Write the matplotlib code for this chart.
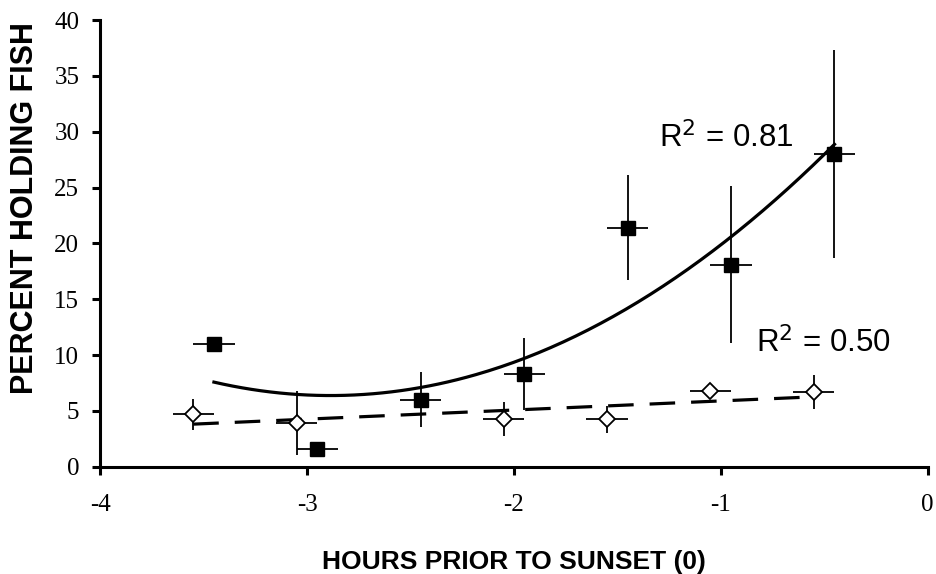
import numpy as np
import matplotlib
matplotlib.use('Agg')
import matplotlib.pyplot as plt

# Filled squares
sq_x = [-3.45, -2.95, -2.45, -1.95, -1.45, -0.95, -0.45]
sq_y = [11.0, 1.6, 6.0, 8.3, 21.4, 18.1, 28.0]
sq_xerr = [0.1, 0.1, 0.1, 0.1, 0.1, 0.1, 0.1]
sq_yerr = [0.0, 0.0, 2.45, 3.2, 4.7, 7.0, 9.3]

# Open diamonds
di_x = [-3.55, -3.05, -2.05, -1.55, -1.05, -0.55]
di_y = [4.7, 3.9, 4.25, 4.25, 6.8, 6.7]
di_xerr = [0.1, 0.1, 0.1, 0.1, 0.1, 0.1]
di_yerr = [1.4, 2.9, 1.5, 1.2, 0.6, 1.5]

r2_sq = "R$^2$ = 0.81"
r2_di = "R$^2$ = 0.50"

fig = plt.figure(figsize=(9.36, 5.74), dpi=100, facecolor='w')
ax = fig.add_axes([0.107, 0.187, 0.884, 0.778])

ax.errorbar(sq_x, sq_y, xerr=sq_xerr, yerr=sq_yerr, fmt='s', color='k',
            markersize=10, elinewidth=1.3, capsize=0, zorder=3)
ax.errorbar(di_x, di_y, xerr=di_xerr, yerr=di_yerr, fmt='D', color='k',
            markerfacecolor='w', markeredgewidth=1.3, markersize=8,
            elinewidth=1.3, capsize=0, zorder=3)

# trendlines (2nd order poly for squares, linear for diamonds)
c2 = np.polyfit(sq_x, sq_y, 2)
xs = np.linspace(min(sq_x), max(sq_x), 200)
ax.plot(xs, np.polyval(c2, xs), color='k', lw=2.3, zorder=2)

c1 = np.polyfit(di_x, di_y, 1)
xd = np.linspace(min(di_x), max(di_x), 50)
ax.plot(xd, np.polyval(c1, xd), color='k', lw=2.3, dashes=(8, 5), zorder=2)

ax.text(-1.30, 28.6, r2_sq, fontsize=22.5, family='Liberation Sans')
ax.text(-0.83, 10.2, r2_di, fontsize=22.5, family='Liberation Sans')

ax.set_xlim(-4, 0)
ax.set_ylim(0, 40)
ax.set_xticks([-4, -3, -2, -1, 0])
ax.set_xticklabels(['-4', '-3', '-2', '-1', '0'])
ax.set_yticks(range(0, 41, 5))

for s in ['top', 'right']:
    ax.spines[s].set_visible(False)
for s in ['left', 'bottom']:
    ax.spines[s].set_linewidth(2.2)
ax.tick_params(direction='out', length=6, width=2.2, labelsize=18)
ax.tick_params(axis='x', pad=14)
ax.tick_params(axis='y', pad=9)
for lab in ax.get_xticklabels() + ax.get_yticklabels():
    lab.set_family('Liberation Serif')

ax.set_xlabel('HOURS PRIOR TO SUNSET (0)', fontsize=19, fontweight='bold',
              family='Liberation Sans', labelpad=24)
ax.set_ylabel('PERCENT HOLDING FISH', fontsize=22, fontweight='bold',
              family='Liberation Sans')
ax.yaxis.set_label_coords(-0.073, 0.58)

fig.savefig('out.png', dpi=100)
plt.close(fig)
